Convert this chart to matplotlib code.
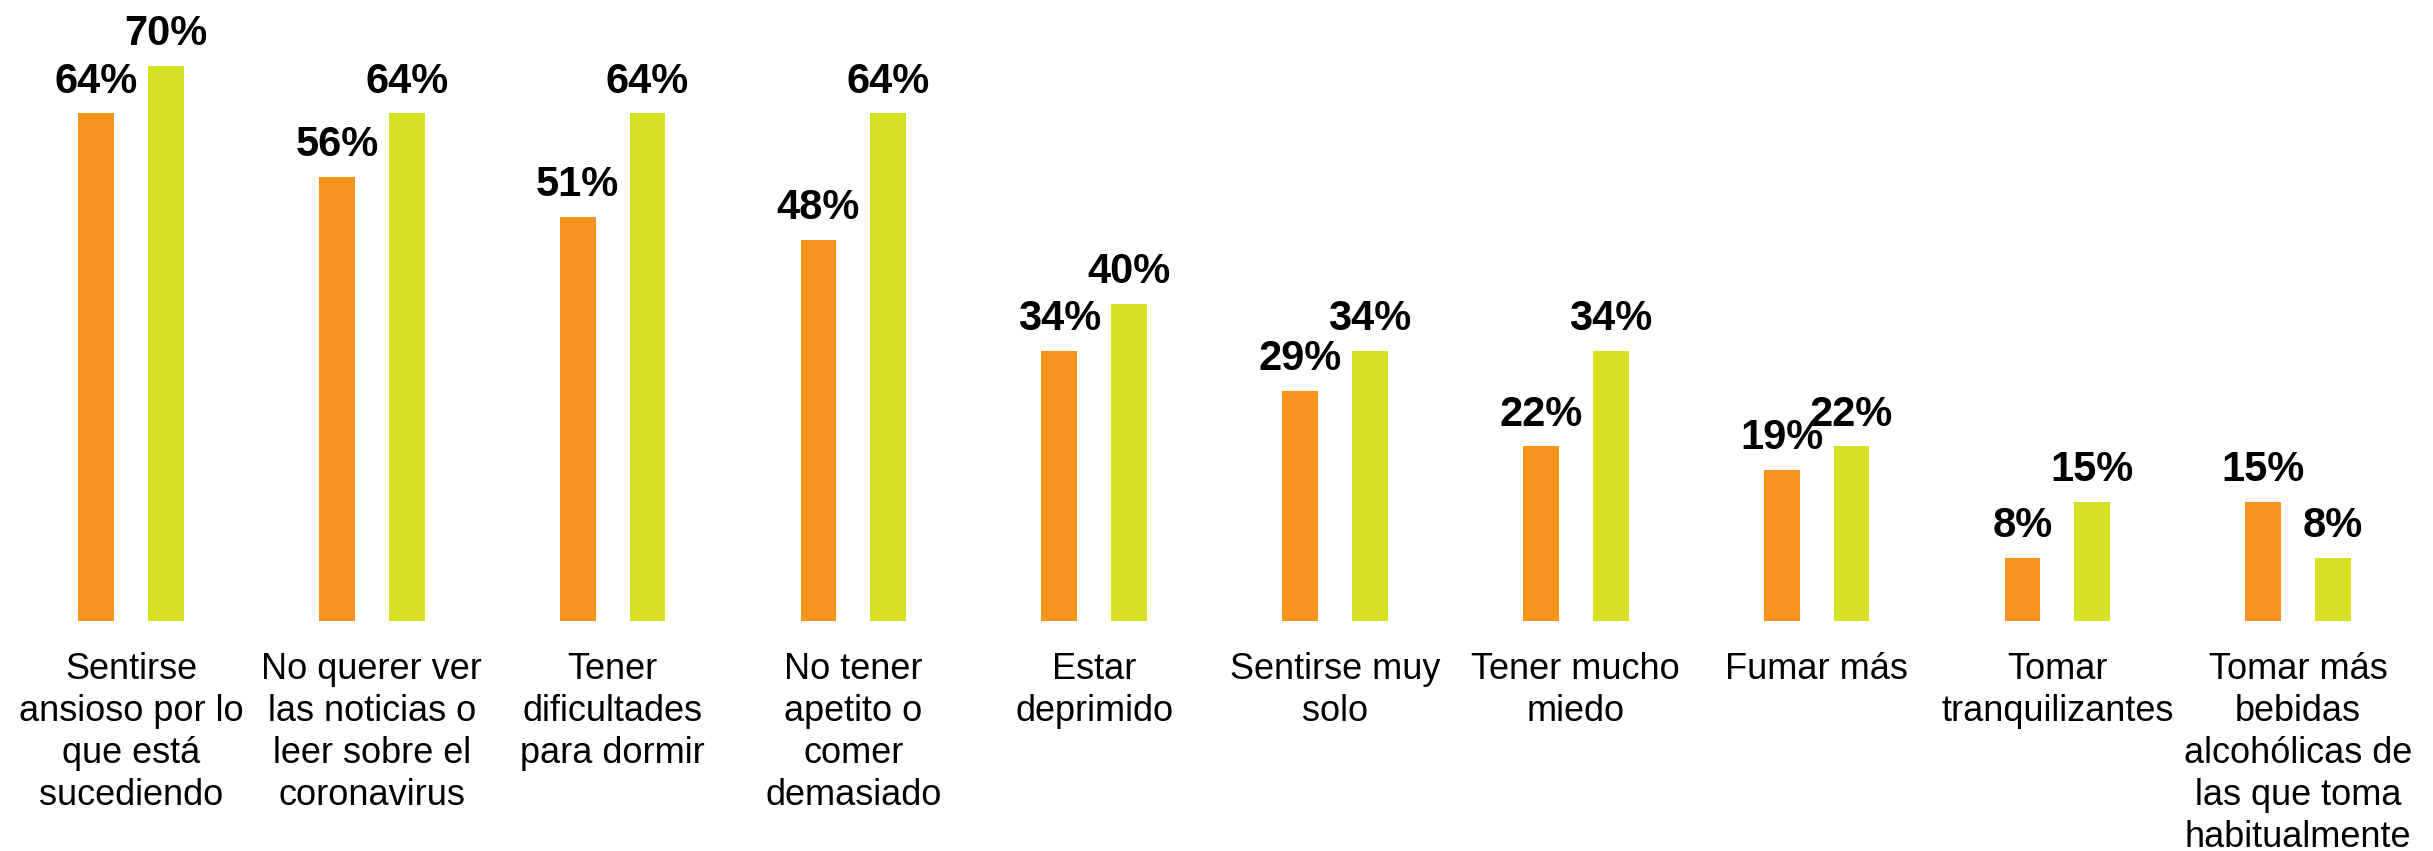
import matplotlib
matplotlib.use("Agg")
import matplotlib.pyplot as plt
import numpy as np

plt.rcParams['font.family'] = ['Liberation Sans', 'DejaVu Sans']

categories = [
    "Sentirse\nansioso por lo\nque está\nsucediendo",
    "No querer ver\nlas noticias o\nleer sobre el\ncoronavirus",
    "Tener\ndificultades\npara dormir",
    "No tener\napetito o\ncomer\ndemasiado",
    "Estar\ndeprimido",
    "Sentirse muy\nsolo",
    "Tener mucho\nmiedo",
    "Fumar más",
    "Tomar\ntranquilizantes",
    "Tomar más\nbebidas\nalcohólicas de\nlas que toma\nhabitualmente",
]
serie_naranja = [64, 56, 51, 48, 34, 29, 22, 19, 8, 15]
serie_verde = [70, 64, 64, 64, 40, 34, 34, 22, 15, 8]

naranja = "#F7941D"
verde = "#D7DF23"

fig = plt.figure(figsize=(24.33, 8.51), dpi=100)
ax = fig.add_axes([0.00436, 0.2703, 0.9897, 0.7297])

x = np.arange(len(categories))
w = 0.149
off = 0.145
b1 = ax.bar(x - off, serie_naranja, w, color=naranja)
b2 = ax.bar(x + off, serie_verde, w, color=verde)

for bars, vals in [(b1, serie_naranja), (b2, serie_verde)]:
    for r, v in zip(bars, vals):
        ax.annotate(f"{v}%", (r.get_x() + r.get_width() / 2, v),
                    xytext=(0, 15), textcoords="offset points",
                    ha="center", va="baseline", fontsize=30, fontweight="bold")

for xi, lab in zip(x, categories):
    ax.annotate(lab, (xi, 0), xytext=(0, -22), textcoords="offset points",
                ha="center", va="top", fontsize=26, linespacing=1.26)

ax.set_xlim(-0.5, 9.5)
ax.set_ylim(0, 78.3)
ax.axis("off")

fig.savefig("out.png", dpi=100)
